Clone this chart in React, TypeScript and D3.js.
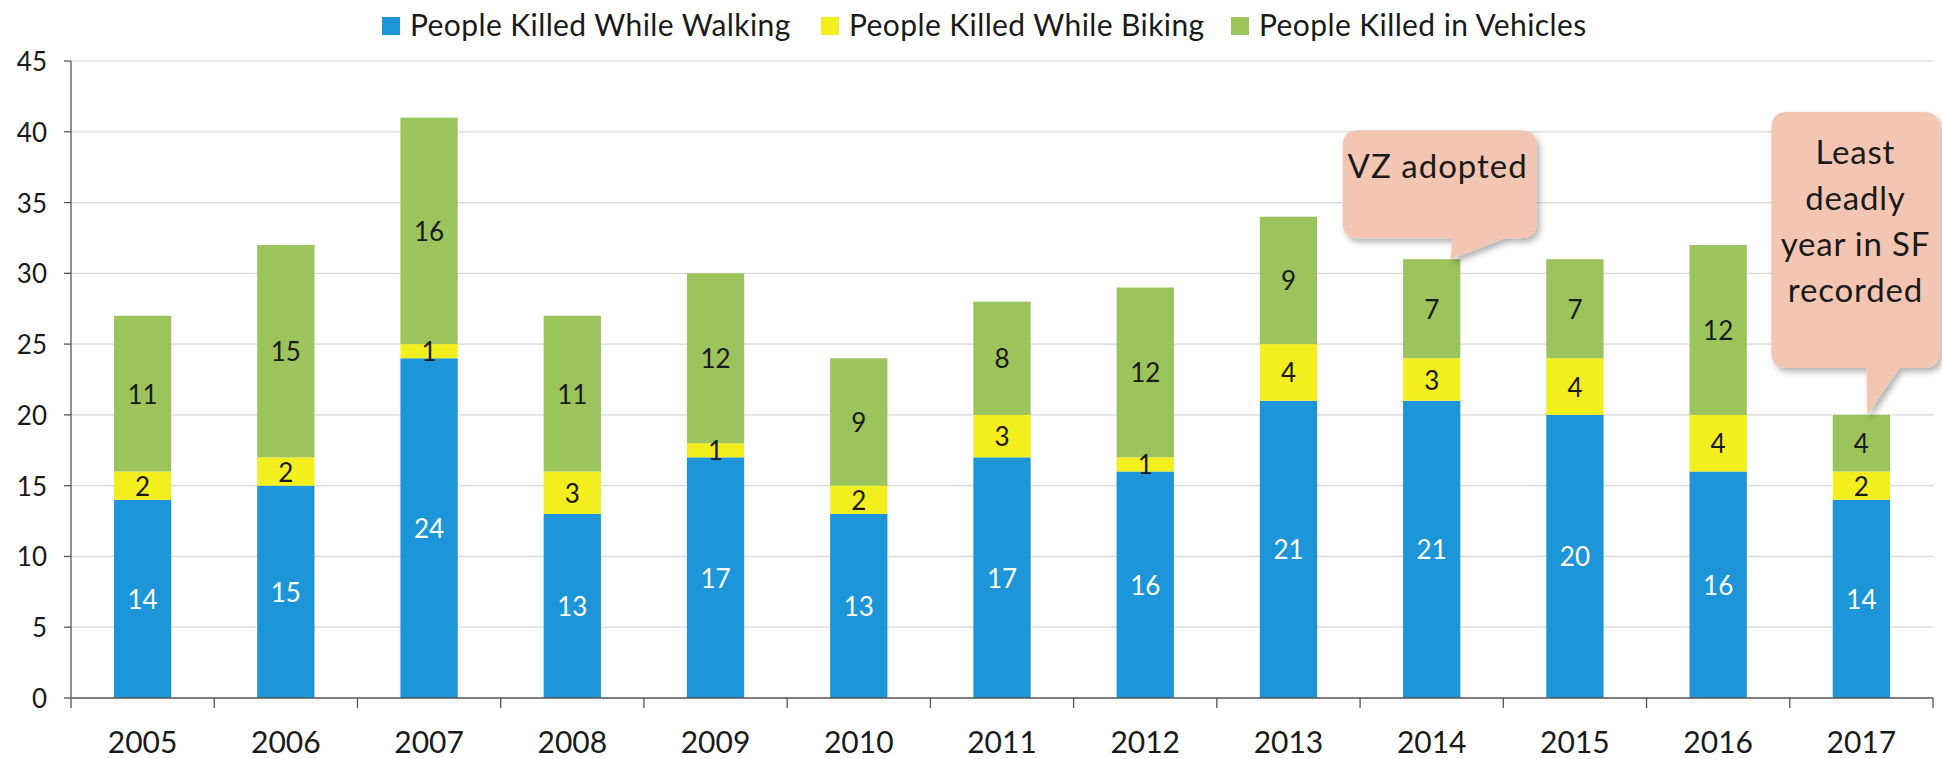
import React from "react";
import * as d3 from "d3";

const years = ["2005", "2006", "2007", "2008", "2009", "2010", "2011", "2012", "2013", "2014", "2015", "2016", "2017"];
const walking = [14, 15, 24, 13, 17, 13, 17, 16, 21, 21, 20, 16, 14];
const biking = [2, 2, 1, 3, 1, 2, 3, 1, 4, 3, 4, 4, 2];
const vehicles = [11, 15, 16, 11, 12, 9, 8, 12, 9, 7, 7, 12, 4];
const seriesNames = ["People Killed While Walking", "People Killed While Biking", "People Killed in Vehicles"];
const seriesColors = ["#1d95d9", "#f3ee1e", "#9cc45d"];
const labelColors = ["#ffffff", "#1a1a1a", "#1a1a1a"];
const yTicks = [0, 5, 10, 15, 20, 25, 30, 35, 40, 45];

const W = 1942;
const H = 759;
const FONT = "Lato, 'Open Sans', sans-serif";

// rounded box with a tail pointing down to (tx, ty)
function calloutPath(left: number, top: number, right: number, bottom: number, r: number,
  baseL: number, baseR: number, tx: number, ty: number) {
  return `M${left + r},${top} H${right - r} Q${right},${top} ${right},${top + r} V${bottom - r} ` +
    `Q${right},${bottom} ${right - r},${bottom} H${baseR} L${tx},${ty} L${baseL},${bottom} H${left + r} ` +
    `Q${left},${bottom} ${left},${bottom - r} V${top + r} Q${left},${top} ${left + r},${top} Z`;
}

export default function App() {
  const margin = { top: 61, right: 9, bottom: 61, left: 71 };
  const x = d3.scaleBand<string>().domain(years).range([margin.left, W - margin.right]).paddingInner(0.6).paddingOuter(0.3);
  const y = d3.scaleLinear().domain([0, 45]).range([H - margin.bottom, margin.top]);
  const step = x.step();
  const x0 = margin.left;
  const x1 = W - margin.right;

  const rows = years.map((yr, i) => ({ year: yr, walk: walking[i], bike: biking[i], veh: vehicles[i] }));
  const stack = d3.stack<any>().keys(["walk", "bike", "veh"])(rows);
  const totals = years.map((_, i) => walking[i] + biking[i] + vehicles[i]);

  // annotation anchors on bar tops
  const i14 = years.indexOf("2014");
  const t1x = (x("2014") as number) + x.bandwidth() / 2 + 19;
  const t1y = y(totals[i14]);
  const i17 = years.indexOf("2017");
  const t2x = (x("2017") as number) + x.bandwidth() / 2 + 6;
  const t2y = y(totals[i17]);

  const legendX = [382, 821, 1231];

  return (
    <svg width={W} height={H} style={{ position: "absolute", left: 0, top: 0, background: "#fff" }} fontFamily={FONT}>
      <defs>
        <filter id="sh" x="-20%" y="-20%" width="140%" height="140%">
          <feDropShadow dx="3" dy="4" stdDeviation="3" floodColor="#000" floodOpacity="0.3" />
        </filter>
      </defs>

      {/* gridlines */}
      {yTicks.filter(t => t > 0).map(t => (
        <line key={t} x1={x0} x2={x1} y1={y(t)} y2={y(t)} stroke="#d8d8d8" strokeWidth={1.2} />
      ))}

      {/* bars */}
      {stack.map((s, si) => (
        <g key={si}>
          {s.map((d, i) => (
            <rect key={i} x={x(years[i])} width={x.bandwidth()} y={y(d[1])} height={y(d[0]) - y(d[1])} fill={seriesColors[si]} />
          ))}
        </g>
      ))}

      {/* segment labels */}
      {stack.map((s, si) => (
        <g key={"l" + si}>
          {s.map((d, i) => (
            <text key={i} x={(x(years[i]) as number) + x.bandwidth() / 2} y={(y(d[0]) + y(d[1])) / 2}
              textAnchor="middle" dominantBaseline="central" fontSize={26} fill={labelColors[si]}>
              {d[1] - d[0]}
            </text>
          ))}
        </g>
      ))}

      {/* y axis */}
      <line x1={x0} x2={x0} y1={y(45)} y2={y(0)} stroke="#555" strokeWidth={1.3} />
      {yTicks.map(t => (
        <g key={t}>
          <line x1={x0 - 7} x2={x0} y1={y(t)} y2={y(t)} stroke="#555" strokeWidth={1.3} />
          <text x={x0 - 24} y={y(t)} textAnchor="end" dominantBaseline="central" fontSize={26} fill="#1a1a1a">{t}</text>
        </g>
      ))}

      {/* x axis */}
      <line x1={x0} x2={x1} y1={y(0)} y2={y(0)} stroke="#555" strokeWidth={1.3} />
      {d3.range(years.length + 1).map(k => (
        <line key={k} x1={x0 + k * step} x2={x0 + k * step} y1={y(0)} y2={y(0) + 10} stroke="#555" strokeWidth={1.3} />
      ))}
      {years.map(yr => (
        <text key={yr} x={(x(yr) as number) + x.bandwidth() / 2} y={753} textAnchor="middle" fontSize={30} fill="#1a1a1a">{yr}</text>
      ))}

      {/* legend */}
      {seriesNames.map((n, i) => (
        <g key={n}>
          <rect x={legendX[i]} y={17} width={18} height={18} fill={seriesColors[i]} />
          <text x={legendX[i] + 28} y={36} fontSize={30} letterSpacing={0.4} fill="#1a1a1a">{n}</text>
        </g>
      ))}

      {/* callouts */}
      <path d={calloutPath(t1x - 108, t1y - 129, t1x + 86, t1y - 21, 16, t1x + 2, t1x + 54, t1x, t1y)}
        fill="#f3c6b3" filter="url(#sh)" />
      <text x={t1x - 13} y={t1y - 81} textAnchor="middle" fontSize={33} letterSpacing={1} fill="#1a1a1a">VZ adopted</text>

      <path d={calloutPath(t2x - 96, t2y - 303, t2x + 72, t2y - 47, 16, t2x - 1, t2x + 32, t2x, t2y)}
        fill="#f3c6b3" filter="url(#sh)" />
      {["Least", "deadly", "year in SF", "recorded"].map((ln, k) => (
        <text key={ln} x={t2x - 12} y={t2y - 251 + k * 46} textAnchor="middle" fontSize={33} letterSpacing={0.8} fill="#1a1a1a">{ln}</text>
      ))}
    </svg>
  );
}
